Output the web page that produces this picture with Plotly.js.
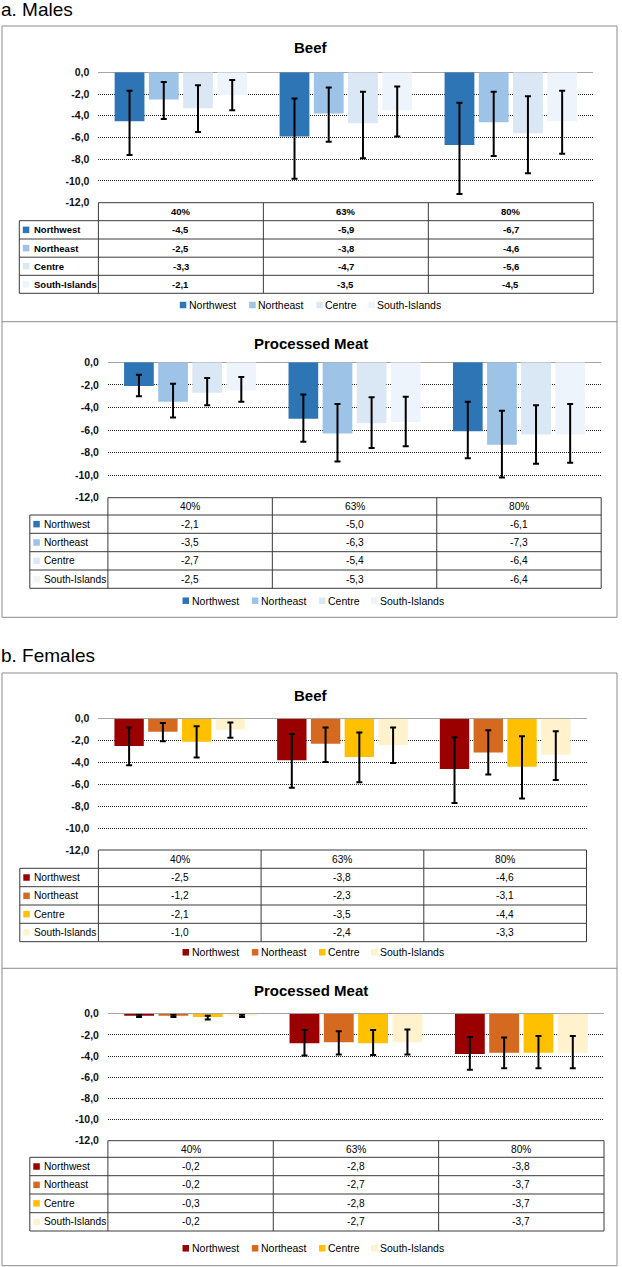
<!DOCTYPE html>
<html><head><meta charset="utf-8">
<script src="https://cdn.plot.ly/plotly-3.0.1.min.js"></script>
<style>html,body{margin:0;padding:0;background:#fff}#chart{width:622px;height:1267px}</style>
</head><body><div id="chart"></div>
<script>
// ---------- DATA ----------
const categories = ['40%', '63%', '80%'];
const regions = ['Northwest', 'Northeast', 'Centre', 'South-Islands'];
const tickVals = [0, -2, -4, -6, -8, -10, -12];
const tickText = ['0,0', '-2,0', '-4,0', '-6,0', '-8,0', '-10,0', '-12,0'];
const maleColors = ['#2E75B6', '#9DC3E6', '#DAE8F5', '#EEF4FB'];
const femaleColors = ['#9B0000', '#D4691F', '#FFC000', '#FFF2CC'];

// a. Males – Beef (value, lower and upper error-bar ends)
const mBeef_NW = [-4.5, -5.9, -6.7], mBeef_NW_lo = [-7.6, -9.8, -11.2], mBeef_NW_hi = [-1.7, -2.4, -2.8];
const mBeef_NE = [-2.5, -3.8, -4.6], mBeef_NE_lo = [-4.3, -6.4, -7.7], mBeef_NE_hi = [-0.9, -1.4, -1.8];
const mBeef_CE = [-3.3, -4.7, -5.6], mBeef_CE_lo = [-5.5, -7.9, -9.3], mBeef_CE_hi = [-1.2, -1.8, -2.2];
const mBeef_SI = [-2.1, -3.5, -4.5], mBeef_SI_lo = [-3.5, -5.9, -7.5], mBeef_SI_hi = [-0.7, -1.3, -1.7];

// a. Males – Processed Meat
const mProc_NW = [-2.1, -5.0, -6.1], mProc_NW_lo = [-3.0, -7.05, -8.5], mProc_NW_hi = [-1.1, -2.85, -3.5];
const mProc_NE = [-3.5, -6.3, -7.3], mProc_NE_lo = [-4.9, -8.8, -10.2], mProc_NE_hi = [-1.9, -3.7, -4.3];
const mProc_CE = [-2.7, -5.4, -6.4], mProc_CE_lo = [-3.8, -7.6, -9.0], mProc_CE_hi = [-1.4, -3.1, -3.8];
const mProc_SI = [-2.5, -5.3, -6.4], mProc_SI_lo = [-3.5, -7.45, -8.9], mProc_SI_hi = [-1.3, -3.05, -3.7];

// b. Females – Beef
const fBeef_NW = [-2.5, -3.8, -4.6], fBeef_NW_lo = [-4.25, -6.3, -7.7], fBeef_NW_hi = [-0.8, -1.4, -1.7];
const fBeef_NE = [-1.2, -2.3, -3.1], fBeef_NE_lo = [-2.05, -3.95, -5.1], fBeef_NE_hi = [-0.4, -0.8, -1.05];
const fBeef_CE = [-2.1, -3.5, -4.4], fBeef_CE_lo = [-3.55, -5.8, -7.3], fBeef_CE_hi = [-0.7, -1.25, -1.6];
const fBeef_SI = [-1.0, -2.4, -3.3], fBeef_SI_lo = [-1.75, -4.05, -5.6], fBeef_SI_hi = [-0.35, -0.8, -1.15];

// b. Females – Processed Meat
const fProc_NW = [-0.2, -2.8, -3.8], fProc_NW_lo = [-0.3, -3.95, -5.3], fProc_NW_hi = [-0.1, -1.55, -2.2];
const fProc_NE = [-0.2, -2.7, -3.7], fProc_NE_lo = [-0.3, -3.85, -5.15], fProc_NE_hi = [-0.1, -1.65, -2.25];
const fProc_CE = [-0.3, -2.8, -3.7], fProc_CE_lo = [-0.55, -3.9, -5.15], fProc_CE_hi = [-0.2, -1.55, -2.1];
const fProc_SI = [-0.2, -2.7, -3.7], fProc_SI_lo = [-0.3, -3.85, -5.15], fProc_SI_hi = [-0.1, -1.5, -2.1];

// ---------- LAYOUT GEOMETRY (pixels) ----------
const W = 622, H = 1267;
const X = p => p / W, Y = p => 1 - p / H;
const FONT = 'Liberation Sans, Arial, sans-serif';

const panels = [
  { title: 'Beef', colors: maleColors, bold: true,
    series: [[mBeef_NW, mBeef_NW_lo, mBeef_NW_hi], [mBeef_NE, mBeef_NE_lo, mBeef_NE_hi], [mBeef_CE, mBeef_CE_lo, mBeef_CE_hi], [mBeef_SI, mBeef_SI_lo, mBeef_SI_hi]],
    px: [98.4, 593.3], py: [72.3, 202.7], titleY: 47.5,
    rows: [202.7, 220.7, 239, 257.2, 275.3, 293.3], labelLeft: 19.3, legendY: 305, legendX: 179.8 },
  { title: 'Processed Meat', colors: maleColors, bold: false,
    series: [[mProc_NW, mProc_NW_lo, mProc_NW_hi], [mProc_NE, mProc_NE_lo, mProc_NE_hi], [mProc_CE, mProc_CE_lo, mProc_CE_hi], [mProc_SI, mProc_SI_lo, mProc_SI_hi]],
    px: [107.9, 601.2], py: [362.3, 497.7], titleY: 343.3,
    rows: [497.7, 515, 533.3, 551.7, 570, 588.3], labelLeft: 29.8, legendY: 600.7, legendX: 182.5 },
  { title: 'Beef', colors: femaleColors, bold: false,
    series: [[fBeef_NW, fBeef_NW_lo, fBeef_NW_hi], [fBeef_NE, fBeef_NE_lo, fBeef_NE_hi], [fBeef_CE, fBeef_CE_lo, fBeef_CE_hi], [fBeef_SI, fBeef_SI_lo, fBeef_SI_hi]],
    px: [98.4, 586.5], py: [718.7, 850], titleY: 695,
    rows: [850, 868.3, 886.7, 905, 923.3, 941.7], labelLeft: 19.8, legendY: 952.3, legendX: 182.5 },
  { title: 'Processed Meat', colors: femaleColors, bold: false,
    series: [[fProc_NW, fProc_NW_lo, fProc_NW_hi], [fProc_NE, fProc_NE_lo, fProc_NE_hi], [fProc_CE, fProc_CE_lo, fProc_CE_hi], [fProc_SI, fProc_SI_lo, fProc_SI_hi]],
    px: [107.9, 604], py: [1013.7, 1140.7], titleY: 990,
    rows: [1140.7, 1157.3, 1175.7, 1194, 1212.7, 1231], labelLeft: 29.8, legendY: 1248.3, legendX: 182.5 }
];
// legend item offsets (px) relative to legendX: square start, text start
const legendSquareOffsets = [0, 69.4, 136.5, 188.5];
const legendTextGap = 8;

const fmt = v => v.toFixed(1).replace('.', ',');
const traces = [], shapes = [], annotations = [];
const layout = {
  width: W, height: H, margin: { l: 0, r: 0, t: 0, b: 0 },
  paper_bgcolor: '#fff', plot_bgcolor: 'rgba(0,0,0,0)',
  barmode: 'group', bargap: 0.17, bargroupgap: 0.13, showlegend: false,
  font: { family: FONT, color: '#000' }
};

const line = (x0, y0, x1, y1, color, width) => shapes.push({
  type: 'line', xref: 'paper', yref: 'paper', layer: 'above',
  x0: X(x0), y0: Y(y0), x1: X(x1), y1: Y(y1), line: { color: color || '#3a3a3a', width: width || 1 }
});
const square = (x, yc, s, color) => shapes.push({
  type: 'rect', xref: 'paper', yref: 'paper', layer: 'above',
  x0: X(x), x1: X(x + s), y0: Y(yc + s / 2), y1: Y(yc - s / 2), fillcolor: color, line: { width: 0 }
});
const text = (o) => annotations.push(Object.assign({ showarrow: false, xanchor: 'center', yanchor: 'middle', borderpad: 0 }, o));

// outer boxes and section headings
const boxColor = '#8C8C8C';
shapes.push({ type: 'rect', xref: 'paper', yref: 'paper', x0: X(2), x1: X(617), y0: Y(26), y1: Y(617.3), line: { color: boxColor, width: 1 }, layer: 'below' });
shapes.push({ type: 'rect', xref: 'paper', yref: 'paper', x0: X(2), x1: X(617), y0: Y(673), y1: Y(1265.7), line: { color: boxColor, width: 1 }, layer: 'below' });
line(2, 321.7, 617, 321.7, boxColor);
line(2, 968.3, 617, 968.3, boxColor);
text({ xref: 'paper', yref: 'paper', x: X(0), y: Y(10), xanchor: 'left', text: 'a. Males', font: { size: 19, family: FONT } });
text({ xref: 'paper', yref: 'paper', x: X(0), y: Y(656), xanchor: 'left', text: 'b. Females', font: { size: 19, family: FONT } });

panels.forEach((p, i) => {
  const n = i === 0 ? '' : String(i + 1);
  const xa = 'x' + n, ya = 'y' + n;
  layout['xaxis' + n] = {
    domain: [X(p.px[0]), X(p.px[1])], anchor: ya, type: 'category',
    categoryorder: 'array', categoryarray: categories, range: [-0.5, 2.5],
    showticklabels: false, showgrid: false, zeroline: false, showline: false, ticks: '', fixedrange: true
  };
  layout['yaxis' + n] = {
    domain: [Y(p.py[1]), Y(p.py[0])], anchor: xa, range: [-12, 0],
    tickmode: 'array', tickvals: tickVals, ticktext: tickText, ticks: '', ticklabelstandoff: 8,
    tickfont: { size: 10.5, family: FONT, color: '#111', weight: 'bold' },
    showgrid: true, gridcolor: '#222', gridwidth: 1, griddash: '1px,1px',
    zeroline: true, zerolinecolor: '#A6A6A6', zerolinewidth: 1, showline: false, fixedrange: true
  };
  p.series.forEach((s, k) => {
    const [vals, lo, hi] = s;
    traces.push({
      type: 'bar', x: categories, y: vals, xaxis: xa, yaxis: ya, name: regions[k],
      marker: { color: p.colors[k], line: { width: 0 } }, hoverinfo: 'skip',
      error_y: {
        type: 'data', symmetric: false, visible: true,
        array: vals.map((v, j) => +(hi[j] - v).toFixed(3)),
        arrayminus: vals.map((v, j) => +(v - lo[j]).toFixed(3)),
        color: '#000', thickness: 2, width: 3
      }
    });
  });

  // chart title
  text({ xref: 'paper', yref: 'paper', x: X(311), y: Y(p.titleY), text: p.title, font: { size: 15, family: FONT, weight: 'bold' } });

  // data table
  const r = p.rows, L = p.labelLeft, x0 = p.px[0], x1 = p.px[1];
  line(x0, r[0], x1, r[0]);
  for (let k = 1; k < r.length; k++) line(L, r[k], x1, r[k]);
  line(L, r[1], L, r[r.length - 1]);
  for (let c = 0; c <= 3; c++) {
    const xc = x0 + c * (x1 - x0) / 3;
    line(xc, r[0], xc, r[r.length - 1]);
  }
  const tf = { size: p.bold ? 9.5 : 10.2, family: FONT, weight: p.bold ? 'bold' : 'normal', color: '#000' };
  categories.forEach((c) => text({ xref: xa, yref: 'paper', x: c, y: Y((r[0] + r[1]) / 2), text: c, font: tf }));
  p.series.forEach((s, k) => {
    const yc = (r[k + 1] + r[k + 2]) / 2;
    square(L + 3.5, yc, 6.5, p.colors[k]);
    text({ xref: 'paper', yref: 'paper', x: X(L + 13.5), y: Y(yc), xanchor: 'left', text: regions[k], font: tf });
    s[0].forEach((v, j) => text({ xref: xa, yref: 'paper', x: categories[j], y: Y(yc), text: fmt(v), font: tf }));
  });

  // legend
  regions.forEach((rg, k) => {
    const sx = p.legendX + legendSquareOffsets[k];
    square(sx, p.legendY, 6.5, p.colors[k]);
    text({ xref: 'paper', yref: 'paper', x: X(sx + legendTextGap), y: Y(p.legendY), xanchor: 'left', text: rg,
      font: { size: 10.5, family: FONT, color: '#000' } });
  });
});

layout.shapes = shapes;
layout.annotations = annotations;
Plotly.newPlot('chart', traces, layout, { staticPlot: true, displayModeBar: false });
</script>
</body></html>
